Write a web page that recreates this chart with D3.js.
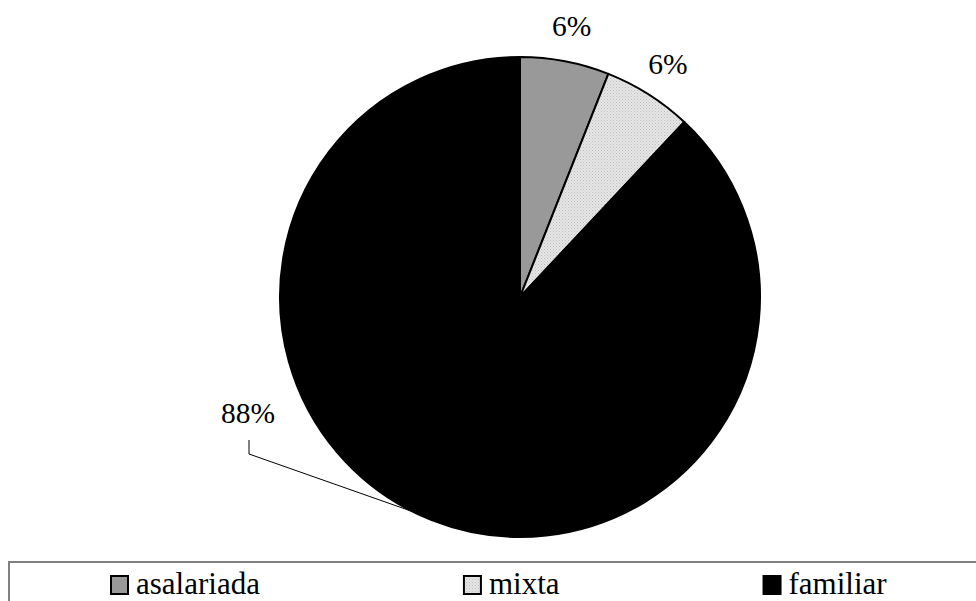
<!DOCTYPE html>
<html>
<head>
<meta charset="utf-8">
<script src="https://cdn.jsdelivr.net/npm/d3@7"></script>
<style>
  html, body { margin: 0; padding: 0; background: #fff; }
  svg { display: block; }
</style>
</head>
<body>
<svg id="chart" width="976" height="601"></svg>
<script>
// Share of farm labour type
const categories = ["asalariada", "mixta", "familiar"];
const values = [6, 6, 88];
const labels = ["6%", "6%", "88%"];

const W = 976, H = 601;
const cx = 520, cy = 297, R = 240;
const FONT = "Liberation Serif";

const svg = d3.select("#chart");
const defs = svg.append("defs");

// fine dotted fill used for the "mixta" slice
const pat = defs.append("pattern")
  .attr("id", "dots")
  .attr("patternUnits", "userSpaceOnUse")
  .attr("width", 3).attr("height", 3);
pat.append("rect").attr("width", 3).attr("height", 3).attr("fill", "#e6e6e6");
pat.append("rect").attr("x", 0).attr("y", 0).attr("width", 1).attr("height", 1).attr("fill", "#bdbdbd");
pat.append("rect").attr("x", 1.5).attr("y", 1.5).attr("width", 1).attr("height", 1).attr("fill", "#c8c8c8");

const fills = d3.scaleOrdinal()
  .domain(categories)
  .range(["#999999", "url(#dots)", "#000000"]);

const pie = d3.pie().sort(null).value(d => d.v);
const data = pie(categories.map((c, i) => ({ c, v: values[i], label: labels[i] })));

const arc = d3.arc().innerRadius(0).outerRadius(R);

const g = svg.append("g").attr("transform", `translate(${cx},${cy})`);

g.selectAll("path.slice")
  .data(data)
  .join("path")
  .attr("class", "slice")
  .attr("d", arc)
  .attr("fill", d => fills(d.data.c))
  .attr("stroke", "#000")
  .attr("stroke-width", 2)
  .attr("stroke-linejoin", "round");

// labels for the small slices sit just outside the rim, on the slice's mid angle
const labelArc = d3.arc().innerRadius(R + 36).outerRadius(R + 36);
g.selectAll("text.small")
  .data(data.filter(d => d.data.v < 50))
  .join("text")
  .attr("class", "small")
  .attr("transform", d => `translate(${labelArc.centroid(d)})`)
  .attr("text-anchor", "middle")
  .attr("dy", "0.35em")
  .attr("font-family", FONT)
  .attr("font-size", 29.5)
  .attr("fill", "#000")
  .text(d => d.data.label);

// large slice: label off to the left with an elbow leader line
const big = data.find(d => d.data.v >= 50);
const anchorAngle = big.startAngle + (big.endAngle - big.startAngle) * 0.516;
const ax = R * Math.sin(anchorAngle), ay = -R * Math.cos(anchorAngle);
const lx = -271, ly = 157, ly2 = 143;
g.append("path")
  .attr("d", d3.line()([[ax, ay], [lx, ly], [lx, ly2]]))
  .attr("fill", "none")
  .attr("stroke", "#000")
  .attr("stroke-width", 1);
g.append("text")
  .attr("x", lx - 1).attr("y", 126)
  .attr("text-anchor", "middle")
  .attr("font-family", FONT)
  .attr("font-size", 29.5)
  .attr("fill", "#000")
  .text(big.data.label);

// legend strip along the bottom
const legend = svg.append("g");
legend.append("rect")
  .attr("x", 9).attr("y", 562)
  .attr("width", W).attr("height", 60)
  .attr("fill", "none")
  .attr("stroke", "#808080")
  .attr("stroke-width", 2);

// items laid out left to right with an even gap between them
const legendStart = 110, swatch = 19, textGap = 26, itemGap = 203;
let xCursor = legendStart;
categories.forEach(c => {
  const item = legend.append("g").attr("transform", `translate(${xCursor},0)`);
  item.append("rect")
    .attr("x", 1).attr("y", 576)
    .attr("width", swatch - 2).attr("height", 18)
    .attr("fill", fills(c))
    .attr("stroke", "#000")
    .attr("stroke-width", 2);
  const t = item.append("text")
    .attr("x", textGap).attr("y", 594)
    .attr("font-family", FONT)
    .attr("font-size", 31)
    .attr("fill", "#000")
    .text(c);
  xCursor += textGap + t.node().getComputedTextLength() + itemGap;
});
</script>
</body>
</html>
